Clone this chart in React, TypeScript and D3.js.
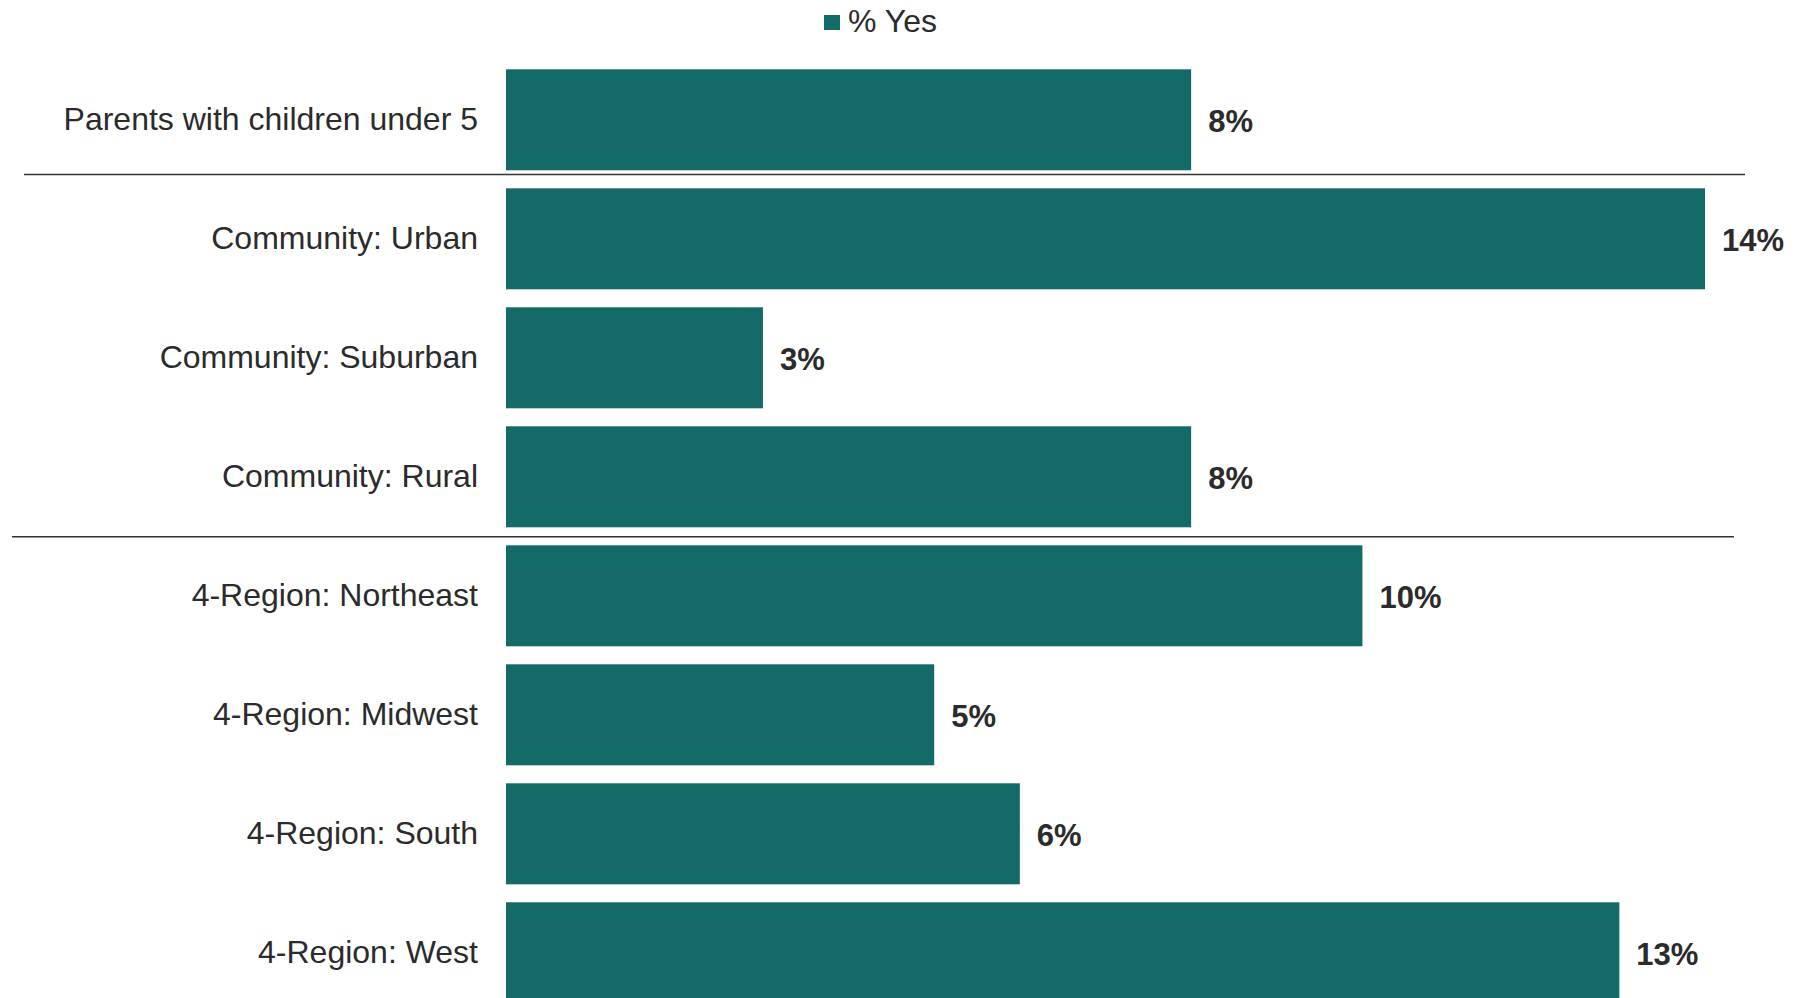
import React from "react";
import * as d3 from "d3";

const categories = [
  "Parents with children under 5",
  "Community: Urban",
  "Community: Suburban",
  "Community: Rural",
  "4-Region: Northeast",
  "4-Region: Midwest",
  "4-Region: South",
  "4-Region: West",
];
const yesValues = [8, 14, 3, 8, 10, 5, 6, 13];
const seriesName = "% Yes";
const separatorsAfter = [0, 3];

const W = 1806;
const H = 998;
const BAR_COLOR = "#136a66";
const TEXT = "#2b2b2b";
const FONT = "Arial, 'Liberation Sans', Helvetica, sans-serif";

export default function App() {
  const x = d3.scaleLinear().domain([0, 14]).range([506, 1705]);
  const y = d3
    .scaleBand<string>()
    .domain(categories)
    .range([69.3, 1003.3])
    .paddingInner(18 / 119)
    .paddingOuter(0);
  const bw = y.bandwidth();
  const sepOffsets = [4.3, 9.4];
  const sepX = [
    [24, 1745],
    [12, 1734],
  ];

  return (
    <svg
      width={W}
      height={H}
      style={{ position: "absolute", left: 0, top: 0, display: "block", background: "#fff" }}
      fontFamily={FONT}
    >
      {/* legend */}
      <rect x={824} y={15} width={16} height={15} fill={BAR_COLOR} />
      <text x={848} y={32} fontSize={32} fill={TEXT}>
        {seriesName}
      </text>

      {categories.map((c, i) => {
        const y0 = y(c)!;
        return (
          <g key={c}>
            <rect x={x(0)} y={y0} width={x(yesValues[i]) - x(0)} height={bw} fill={BAR_COLOR} />
            <text
              x={478}
              y={y0 + bw / 2}
              dy="0.33em"
              textAnchor="end"
              fontSize={32}
              fill={TEXT}
            >
              {c}
            </text>
            <text
              x={x(yesValues[i]) + 17}
              y={y0 + bw / 2}
              dy="0.38em"
              fontSize={31}
              fontWeight="bold"
              fill={TEXT}
            >
              {yesValues[i]}%
            </text>
          </g>
        );
      })}

      {separatorsAfter.map((idx, k) => {
        const yy = y(categories[idx])! + bw + sepOffsets[k];
        return (
          <line
            key={idx}
            x1={sepX[k][0]}
            x2={sepX[k][1]}
            y1={yy}
            y2={yy}
            stroke="#333"
            strokeWidth={1.5}
          />
        );
      })}
    </svg>
  );
}
